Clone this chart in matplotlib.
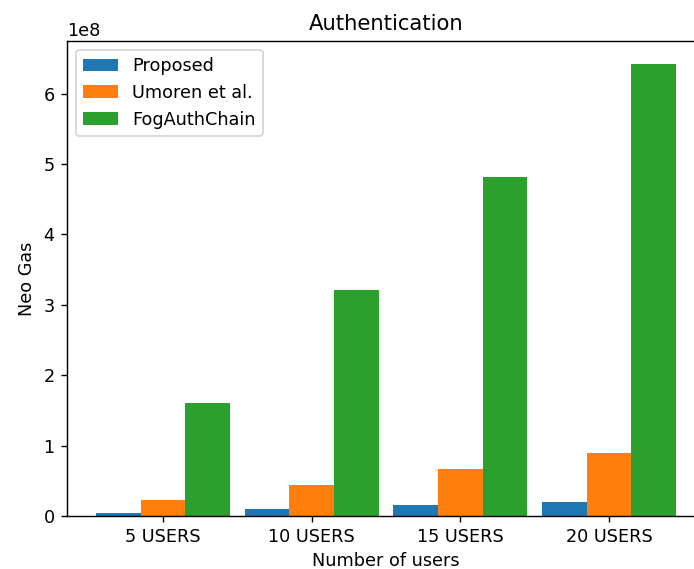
import numpy as np
import matplotlib
matplotlib.use("Agg")
import matplotlib.pyplot as plt

labels = ['5 USERS', '10 USERS', '15 USERS', '20 USERS']
proposed = [4.8e6, 9.7e6, 15.2e6, 20.0e6]
umoren = [22.2e6, 44.5e6, 66.7e6, 89.0e6]
fogauthchain = [160.7e6, 321.4e6, 482.1e6, 642.8e6]

DPI = 127
fig = plt.figure(figsize=(694 / DPI, 569 / DPI), dpi=DPI)
# axes runs past the right edge, as in the cropped original
ax = fig.add_axes([67 / 694, 53 / 569, (705 - 67) / 694, (516 - 41) / 569])

x = np.arange(len(labels))
w = 0.3
ax.bar(x - w, proposed, w, label='Proposed')
ax.bar(x, umoren, w, label='Umoren et al.')
ax.bar(x + w, fogauthchain, w, label='FogAuthChain')

ax.set_xticks(x)
ax.set_xticklabels(labels)
ax.set_xlabel('Number of users', labelpad=3)
ax.set_ylabel('Neo Gas')
ax.set_title('Authentication')
ax.legend(loc='upper left')

fig.savefig('out.png', dpi=DPI)
